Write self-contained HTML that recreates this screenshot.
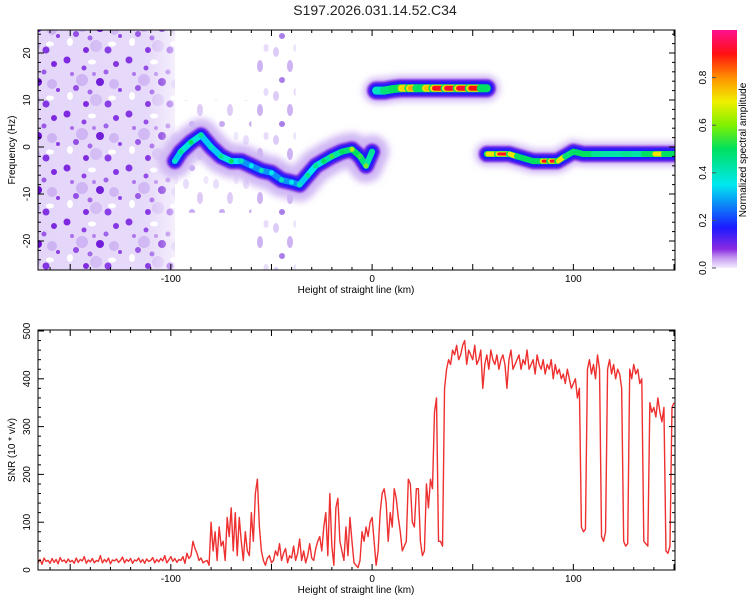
<!DOCTYPE html>
<html><head><meta charset="utf-8">
<style>
body{margin:0;background:#fff;}
svg{display:block;font-family:"Liberation Sans",sans-serif;}
</style></head>
<body>
<svg id="chart" width="750" height="600" viewBox="0 0 750 600">
<defs>
<linearGradient id="cbar" x1="0" y1="1" x2="0" y2="0">
<stop offset="0" stop-color="#f4ecff"/><stop offset="0.04" stop-color="#c8a0f0"/><stop offset="0.08" stop-color="#8a2be2"/>
<stop offset="0.17" stop-color="#1a1aff"/><stop offset="0.35" stop-color="#00e8f0"/><stop offset="0.5" stop-color="#00e060"/>
<stop offset="0.6" stop-color="#80f000"/><stop offset="0.7" stop-color="#f0f000"/><stop offset="0.8" stop-color="#ff9000"/>
<stop offset="0.9" stop-color="#ff1010"/><stop offset="1" stop-color="#ff1090"/>
</linearGradient>
<pattern id="speck" width="62" height="54" patternUnits="userSpaceOnUse">
<rect width="62" height="54" fill="#e4d6f9"/>
<ellipse cx="30" cy="8" rx="4" ry="2.5" fill="#fff"/><ellipse cx="8" cy="42" rx="3" ry="4" fill="#fff"/>
<ellipse cx="50" cy="44" rx="4" ry="2.5" fill="#fff"/>
<circle cx="20" cy="26" r="6" fill="#cdb2f3"/><circle cx="52" cy="30" r="5" fill="#cdb2f3"/><circle cx="34" cy="46" r="6" fill="#d2baf4"/>
<circle cx="5" cy="6" r="3.5" fill="#7a22e0"/><circle cx="22" cy="14" r="2.5" fill="#8a3ae4"/>
<circle cx="38" cy="28" r="4" fill="#6a10d8"/><circle cx="14" cy="34" r="3" fill="#9048e4"/>
<circle cx="54" cy="10" r="3" fill="#7c26e0"/><circle cx="46" cy="50" r="3.5" fill="#8232e2"/>
<circle cx="28" cy="38" r="2.5" fill="#a060e8"/><circle cx="58" cy="36" r="2" fill="#8a3ae4"/>
<circle cx="10" cy="20" r="2" fill="#a868ea"/><circle cx="24" cy="50" r="3" fill="#7a22e0"/>
<circle cx="44" cy="18" r="2.5" fill="#9a58e6"/><circle cx="32" cy="20" r="2" fill="#b07cec"/>
</pattern>
<pattern id="speck2" width="30" height="44" patternUnits="userSpaceOnUse">
<ellipse cx="6" cy="8" rx="3" ry="5" fill="#d8c6f6"/><ellipse cx="20" cy="22" rx="3" ry="6" fill="#c8aaf2"/>
<circle cx="12" cy="36" r="3" fill="#a070e8"/><ellipse cx="26" cy="4" rx="2.5" ry="4" fill="#e4d8fa"/>
</pattern>
<linearGradient id="fadeL" x1="0" x2="1"><stop offset="0" stop-color="#fff" stop-opacity="0"/><stop offset="0.8" stop-color="#fff" stop-opacity="0.1"/><stop offset="1" stop-color="#fff" stop-opacity="0.6"/></linearGradient>
<filter id="blur3" filterUnits="userSpaceOnUse" x="0" y="0" width="750" height="600"><feGaussianBlur stdDeviation="3.5"/></filter>
<filter id="blur2" filterUnits="userSpaceOnUse" x="0" y="0" width="750" height="600"><feGaussianBlur stdDeviation="2"/></filter>
<filter id="blur1" filterUnits="userSpaceOnUse" x="0" y="0" width="750" height="600"><feGaussianBlur stdDeviation="1"/></filter>
<clipPath id="clipTop"><rect x="38" y="30" width="637" height="240"/></clipPath>
<clipPath id="clipBot"><rect x="38" y="330" width="637" height="240"/></clipPath>
</defs>
<text x="375" y="15" text-anchor="middle" font-size="14" fill="#222">S197.2026.031.14.52.C34</text>
<g id="top"></g>
<g id="bot"></g>
</svg>
<script>
// ---- spectrogram track data ----
const trackAKm  = [-98,-95,-90,-85,-80,-75,-70,-65,-60,-55,-50,-45,-40,-36,-32,-28,-24,-20,-15,-10,-6,-3,0];
const trackAHz  = [-3,-1,1,2.5,0,-2,-3,-3,-4,-5,-5.5,-7,-7.5,-8,-6,-4,-3,-2,-1,-0.5,-2,-4,-1];
const trackAAmp = [0.3,0.35,0.4,0.35,0.3,0.35,0.4,0.3,0.25,0.3,0.25,0.3,0.25,0.3,0.35,0.35,0.4,0.45,0.4,0.55,0.45,0.5,0.35];
const trackBKm  = [2,6,10,14,18,22,26,30,36,42,48,54,57];
const trackBHz  = [12,12,12.3,12.5,12.5,12.5,12.5,12.5,12.5,12.5,12.5,12.5,12.5];
const trackBAmp = [0.35,0.45,0.5,0.6,0.85,0.7,0.6,0.9,0.92,0.92,0.92,0.88,0.5];
const trackCKm  = [57,62,68,72,76,80,84,88,92,96,100,105,110,115,120,125,130,135,140,145,150];
const trackCHz  = [-1.5,-1.5,-1.5,-2,-2.5,-3,-3,-3,-3,-2,-1,-1.5,-1.5,-1.5,-1.5,-1.5,-1.5,-1.5,-1.5,-1.5,-1.5];
const trackCAmp = [0.5,0.92,0.92,0.5,0.9,0.45,0.9,0.92,0.92,0.5,0.45,0.9,0.45,0.45,0.4,0.45,0.45,0.4,0.92,0.5,0.9];
const topTicksX = [-100,0,100];
const topTicksY = [-20,-10,0,10,20];
const cbarTicks = [0.0,0.2,0.4,0.6,0.8];
// ---- SNR data (1 km steps from -167) ----
const snrStart = -167;
const snrValues = [
30,15,22,12,25,18,20,14,24,16, 22,13,26,18,21,15,23,17,20,14, 25,16,22,19,28,14,21,17,24,15,
20,18,30,15,22,17,25,13,21,19, 23,16,20,27,15,22,18,24,14,21, 19,25,16,22,14,23,18,20,26,15,
22,17,24,19,30,15,21,28,18,24, 16,22,20,28,14,35,24,30,60,45, 35,20,25,15,18,20,10,100,40,80,
20,90,50,60,20,110,70,130,40,120, 30,110,60,20,80,40,30,120,60,160, 190,90,40,20,10,25,30,15,20,40,
30,55,20,35,45,15,30,25,50,20, 35,65,20,40,15,30,55,25,20,45, 60,70,40,90,120,30,160,50,10,130,
150,60,40,20,90,30,110,60,15,10, 5,20,80,60,90,70,100,110,60,10, 40,120,160,170,140,60,120,90,170,150,
110,80,40,50,60,190,180,100,90,170, 170,60,30,40,180,130,190,170,330,360, 60,60,50,380,420,440,430,460,450,470,
440,450,470,480,430,460,450,440,470,430, 440,460,380,430,450,420,460,440,430,450, 420,440,450,430,380,440,460,420,430,440,
450,420,440,430,460,420,430,440,410,450, 430,420,440,410,430,420,440,400,430,410, 420,400,410,390,420,400,380,390,400,360,
380,90,80,85,420,440,410,430,400,450, 420,70,60,80,420,440,410,430,400,420, 410,380,60,50,55,420,400,430,410,420,
390,400,60,55,50,350,330,340,320,360, 330,310,340,40,35,50,340,350];
const botTicksY = [0,100,200,300,400,500];

const NS='http://www.w3.org/2000/svg';
function mk(parent,tag,attrs){const e=document.createElementNS(NS,tag);for(const k in attrs)e.setAttribute(k,attrs[k]);parent.appendChild(e);return e;}
const X0=38,X1=675,KM0=-166,KM1=150.5;
const xs=km=>X0+(km-KM0)/(KM1-KM0)*(X1-X0);
const ysT=hz=>147-hz*4.7;
const ysB=v=>570-v*0.478;
function cmap(a){
 const st=[[0,[244,236,255]],[0.08,[138,43,226]],[0.17,[26,26,255]],[0.35,[0,232,240]],[0.5,[0,224,96]],[0.7,[240,240,0]],[0.8,[255,144,0]],[0.9,[255,16,16]],[1,[255,16,144]]];
 for(let i=1;i<st.length;i++){if(a<=st[i][0]){const t=(a-st[i-1][0])/(st[i][0]-st[i-1][0]);const c=st[i-1][1].map((v,j)=>Math.round(v+(st[i][1][j]-v)*t));return `rgb(${c})`;}}
 return 'rgb(255,16,144)';
}
const topG=document.getElementById('top'), botG=document.getElementById('bot');

// ---- Top panel ----
const tc=mk(topG,'g',{'clip-path':'url(#clipTop)'});
let r=mk(tc,'rect',{x:X0,y:30,width:xs(-98)-X0,height:240,fill:'url(#speck)'});


mk(tc,'rect',{x:X0,y:30,width:xs(-98)-X0,height:240,fill:'url(#fadeL)'});
r=mk(tc,'rect',{x:xs(-58),y:30,width:xs(-38)-xs(-58),height:240,fill:'url(#speck2)',opacity:0.9});


mk(tc,'rect',{x:xs(-98),y:ysT(10),width:xs(-60)-xs(-98),height:ysT(-14)-ysT(10),fill:'url(#speck2)',opacity:0.6});
function drawTrack(kms,hzs,amps,name,wide,halo){
 const g=mk(tc,'g',{});
 
 
 const pts=kms.map((k,i)=>xs(k)+','+ysT(hzs[i])).join(' ');
 mk(g,'polyline',{points:pts,fill:'none',stroke:'#d0b8f4','stroke-width':wide+halo,'stroke-linejoin':'round','stroke-linecap':'round',filter:'url(#blur3)'});
 mk(g,'polyline',{points:pts,fill:'none',stroke:'#7a22e0','stroke-width':wide+4,'stroke-linejoin':'round','stroke-linecap':'round',filter:'url(#blur1)'});
 mk(g,'polyline',{points:pts,fill:'none',stroke:'#1a1aff','stroke-width':wide,'stroke-linejoin':'round','stroke-linecap':'round',filter:'url(#blur1)'});
 for(let i=0;i<kms.length-1;i++){
  const a=(amps[i]+amps[i+1])/2;
  const s=mk(g,'line',{x1:xs(kms[i]),y1:ysT(hzs[i]),x2:xs(kms[i+1]),y2:ysT(hzs[i+1]),stroke:cmap(Math.min(a,0.5)),'stroke-width':wide-6,'stroke-linecap':'round'});
  
  
  if(a>0.7){
   const y=mk(g,'line',{x1:xs(kms[i])+1,y1:ysT(hzs[i]),x2:xs(kms[i+1])-1,y2:ysT(hzs[i+1]),stroke:'#f0e000','stroke-width':wide-7,'stroke-linecap':'round'});
   
   
   const c=mk(g,'line',{x1:xs(kms[i])+2,y1:ysT(hzs[i]),x2:xs(kms[i+1])-2,y2:ysT(hzs[i+1]),stroke:cmap(a),'stroke-width':wide-9,'stroke-linecap':'round'});
   
   }
 }
 return g;
}
const gA=drawTrack(trackAKm,trackAHz,trackAAmp,'track-descending',12,22);
trackAKm.forEach((k,i)=>{const d=mk(gA,'circle',{cx:xs(k),cy:ysT(trackAHz[i]),r:2.5,fill:cmap(trackAAmp[i]+0.1)});
 
 });
drawTrack(trackBKm,trackBHz,trackBAmp,'track-upper',14,12);
drawTrack(trackCKm,trackCHz,trackCAmp,'track-lower',12,12);
function frame(g,y0,y1,ticksY,ys,minorY,name){
 const f=mk(g,'rect',{x:X0,y:y0,width:X1-X0,height:y1-y0,fill:'none',stroke:'#000','stroke-width':1});
 
 
 for(let k=-160;k<=150;k+=10){const x=xs(k);const L=(k%50===0)?6:3;
  mk(g,'line',{x1:x,y1:y1,x2:x,y2:y1-L,stroke:'#000'});mk(g,'line',{x1:x,y1:y0,x2:x,y2:y0+L,stroke:'#000'});}
 topTicksX.forEach(k=>{const t=mk(g,'text',{x:xs(k),y:y1+12,'font-size':10,'text-anchor':'middle'});t.textContent=k;
  
  });
 const xt=mk(g,'text',{x:356,y:y1+23,'font-size':10,'text-anchor':'middle'});xt.textContent='Height of straight line (km)';
 
 
 minorY.forEach(v=>{const y=ys(v);const L=ticksY.includes(v)?6:3;
  mk(g,'line',{x1:X0,y1:y,x2:X0+L,y2:y,stroke:'#000'});mk(g,'line',{x1:X1,y1:y,x2:X1-L,y2:y,stroke:'#000'});});
 ticksY.forEach(v=>{const y=ys(v);const t=mk(g,'text',{x:0,y:0,'font-size':10,'text-anchor':'middle',transform:`translate(30,${y}) rotate(-90)`});t.textContent=v;
  
  });
}
const minT=[];for(let v=-24;v<=24;v+=2)minT.push(v);
frame(topG,30,270,topTicksY,ysT,minT,'spectrogram-frame');
let yt=mk(topG,'text',{x:0,y:0,'font-size':10,'text-anchor':'middle',transform:'translate(15,150) rotate(-90)'});yt.textContent='Frequency (Hz)';


const cb=mk(topG,'rect',{x:712,y:30,width:25,height:238,fill:'url(#cbar)'});


cbarTicks.forEach(v=>{const y=268-v*238;mk(topG,'line',{x1:712,y1:y,x2:716,y2:y,stroke:'#555'});
 const t=mk(topG,'text',{x:0,y:0,'font-size':10,'text-anchor':'middle',transform:`translate(706,${y}) rotate(-90)`});t.textContent=v.toFixed(1);
 
 });
let ct=mk(topG,'text',{x:0,y:0,'font-size':10,'text-anchor':'middle',transform:'translate(746,150) rotate(-90)'});ct.textContent='Normalized spectral amplitude';



// ---- Bottom panel ----
const bc=mk(botG,'g',{'clip-path':'url(#clipBot)'});
const pts=snrValues.map((v,i)=>xs(snrStart+i)+','+ysB(v)).join(' ');
const ln=mk(bc,'polyline',{points:pts,fill:'none',stroke:'#ee3030','stroke-width':1.4,'stroke-linejoin':'round'});


const minB=[];for(let v=0;v<=500;v+=20)minB.push(v);
frame(botG,330,570,botTicksY,ysB,minB,'snr-frame');
yt=mk(botG,'text',{x:0,y:0,'font-size':10,'text-anchor':'middle',transform:'translate(15,450) rotate(-90)'});yt.textContent='SNR (10 * v/v)';


</script>
</body></html>
